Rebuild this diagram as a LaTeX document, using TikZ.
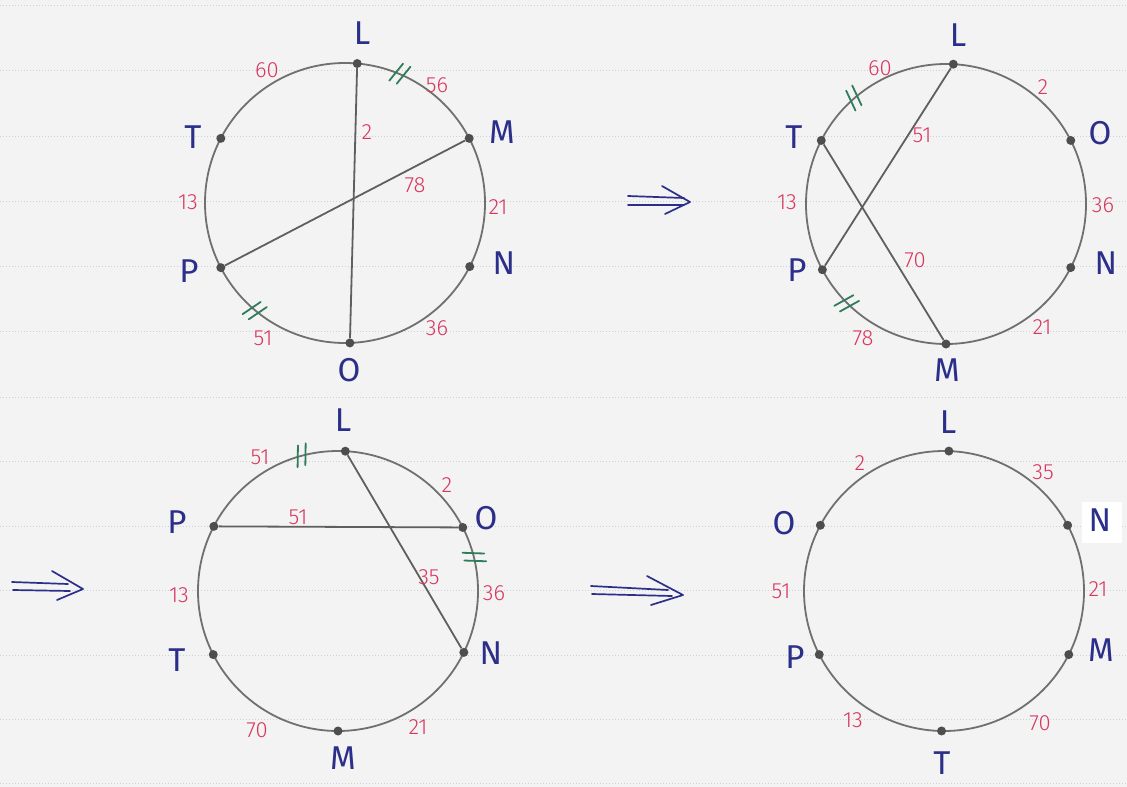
\documentclass[tikz,border=0pt]{standalone}
\usepackage{fontspec}
\setmainfont{Fira Sans Light}
\newfontfamily\letterfont{Fira Sans}
\usetikzlibrary{calc}
\definecolor{ink}{HTML}{2B2F8A}
\definecolor{num}{HTML}{D8365E}
\definecolor{tickc}{HTML}{2F7D5B}
\definecolor{pencil}{HTML}{707070}
\definecolor{paper}{HTML}{F3F3F3}
\definecolor{rulec}{HTML}{CCD0D8}
\tikzset{
  pt/.style={circle,fill=pencil!70!black,inner sep=0pt,minimum size=9pt},
  lbl/.style={text=ink,font=\letterfont\fontsize{33}{33}\selectfont,inner sep=0pt},
  val/.style={text=num,font=\fontsize{22}{22}\selectfont,inner sep=0pt},
  rim/.style={draw=pencil,line width=1.8pt},
  chord/.style={draw=pencil!85!black,line width=1.8pt},
  hatch/.style={draw=tickc,line width=1.8pt,line cap=round},
  imp/.style={draw=ink,line width=1.7pt,line cap=round,line join=round},
}
\newcommand\hashpair[2]{\begin{scope}[shift={(#1)},rotate=#2]
  \draw[hatch] (130,-7) -- (151,-1);
  \draw[hatch] (130,1) -- (151,7);
\end{scope}}
\begin{document}
\begin{tikzpicture}[x=1pt,y=-1pt]
\useasboundingbox (0,0) rectangle (1127,787);
\fill[paper] (0,0) rectangle (1127,787);
\foreach \yy in {5,70,136,201,266,331,397,461,526,590,655,719,783}
  \draw[rulec,line width=0.8pt,dash pattern=on 1.2pt off 1.8pt] (0,\yy) -- (1127,\yy);
\fill[white] (1082,502) rectangle (1122,543);

% ---------- circle 1 ----------
\coordinate (c1) at (345,203);
\draw[rim] (c1) circle[radius=140];
\node[pt] (L1) at ($(c1)+(-85:140)$) {};
\node[pt] (M1) at ($(c1)+(-27.5:140)$) {};
\node[pt] (N1) at ($(c1)+(27:140)$) {};
\node[pt] (O1) at ($(c1)+(88:140)$) {};
\node[pt] (P1) at ($(c1)+(-207.5:140)$) {};
\node[pt] (T1) at ($(c1)+(-152.5:140)$) {};
\draw[chord] (L1) -- (O1);
\draw[chord] (P1) -- (M1);
\hashpair{c1}{67}
\hashpair{c1}{230}
\node[lbl] (tL1) at (362,33) {L};
\node[lbl] (tM1) at (502,132) {M};
\node[lbl] (tN1) at (504,263) {N};
\node[lbl] (tO1) at (349,370) {O};
\node[lbl] (tP1) at (189,271) {P};
\node[lbl] (tT1) at (193,137) {T};
\node[val] (a1) at (267,70) {60};
\node[val] (b1) at (437,85) {56};
\node[val] (d1) at (367,132) {2};
\node[val] (e1) at (415,185) {78};
\node[val] (f1) at (498,207) {21};
\node[val] (g1) at (188,202) {13};
\node[val] (h1) at (437,328) {36};
\node[val] (k1) at (263,338) {51};

% arrow 1
\draw[imp] (628,196) -- (684,198);
\draw[imp] (628,205) -- (684,205);
\draw[imp] (662,186) -- (690,202) -- (665,214);

% ---------- circle 2 ----------
\coordinate (c2) at (946,204);
\draw[rim] (c2) circle[radius=140];
\node[pt] (L2) at ($(c2)+(-87:140)$) {};
\node[pt] (O2) at ($(c2)+(-27:140)$) {};
\node[pt] (N2) at ($(c2)+(27:140)$) {};
\node[pt] (M2) at ($(c2)+(90:140)$) {};
\node[pt] (P2) at ($(c2)+(-208:140)$) {};
\node[pt] (T2) at ($(c2)+(-153:140)$) {};
\draw[chord] (L2) -- (P2);
\draw[chord] (T2) -- (M2);
\hashpair{c2}{131}
\hashpair{c2}{225}
\node[lbl] (tL2) at (958,35) {L};
\node[lbl] (tO2) at (1100,133) {O};
\node[lbl] (tN2) at (1106,263) {N};
\node[lbl] (tM2) at (947,370) {M};
\node[lbl] (tP2) at (797,270) {P};
\node[lbl] (tT2) at (794,137) {T};
\node[val] (a2) at (880,68) {60};
\node[val] (b2) at (1043,87) {2};
\node[val] (d2) at (922,135) {51};
\node[val] (e2) at (787,202) {13};
\node[val] (f2) at (1103,205) {36};
\node[val] (g2) at (915,260) {70};
\node[val] (h2) at (863,338) {78};
\node[val] (k2) at (1042,327) {21};

% arrow 2
\draw[imp] (12,582) -- (68,584);
\draw[imp] (13,590) -- (70,591);
\draw[imp] (52,571) -- (83,589) -- (57,600);

% ---------- circle 3 ----------
\coordinate (c3) at (338,591);
\draw[rim] (c3) circle[radius=140];
\node[pt] (L3) at ($(c3)+(-87:140)$) {};
\node[pt] (O3) at ($(c3)+(-27:140)$) {};
\node[pt] (N3) at ($(c3)+(26:140)$) {};
\node[pt] (M3) at ($(c3)+(90:140)$) {};
\node[pt] (T3) at ($(c3)+(-207:140)$) {};
\node[pt] (P3) at ($(c3)+(-152.5:140)$) {};
\draw[chord] (P3) -- (O3);
\draw[chord] (L3) -- (N3);
\hashpair{c3}{105}
\hashpair{c3}{14}
\node[lbl] (tL3) at (343,420) {L};
\node[lbl] (tP3) at (177,522) {P};
\node[lbl] (tO3) at (486,518) {O};
\node[lbl] (tN3) at (491,653) {N};
\node[lbl] (tT3) at (177,660) {T};
\node[lbl] (tM3) at (343,758) {M};
\node[val] (a3) at (260,457) {51};
\node[val] (b3) at (447,485) {2};
\node[val] (d3) at (298,517) {51};
\node[val] (e3) at (429,577) {35};
\node[val] (f3) at (494,593) {36};
\node[val] (g3) at (179,595) {13};
\node[val] (h3) at (257,730) {70};
\node[val] (k3) at (418,727) {21};

% arrow 3
\draw[imp] (591,586) -- (668,590);
\draw[imp] (592,594) -- (672,596);
\draw[imp] (647,576) -- (683,595) -- (651,605);

% ---------- circle 4 ----------
\coordinate (c4) at (944,591);
\draw[rim] (c4) circle[radius=140];
\node[pt] (L4) at ($(c4)+(-88:140)$) {};
\node[pt] (N4) at ($(c4)+(-28:140)$) {};
\node[pt] (M4) at ($(c4)+(27:140)$) {};
\node[pt] (T4) at ($(c4)+(91:140)$) {};
\node[pt] (P4) at ($(c4)+(-207:140)$) {};
\node[pt] (O4) at ($(c4)+(-152:140)$) {};
\node[lbl] (tL4) at (948,422) {L};
\node[lbl] (tO4) at (784,523) {O};
\node[lbl] (tN4) at (1100,520) {N};
\node[lbl] (tP4) at (795,657) {P};
\node[lbl] (tM4) at (1101,650) {M};
\node[lbl] (tT4) at (942,763) {T};
\node[val] (a4) at (860,463) {2};
\node[val] (b4) at (1043,472) {35};
\node[val] (d4) at (781,591) {51};
\node[val] (e4) at (1098,589) {21};
\node[val] (f4) at (853,720) {13};
\node[val] (g4) at (1040,723) {70};
\end{tikzpicture}
\end{document}
